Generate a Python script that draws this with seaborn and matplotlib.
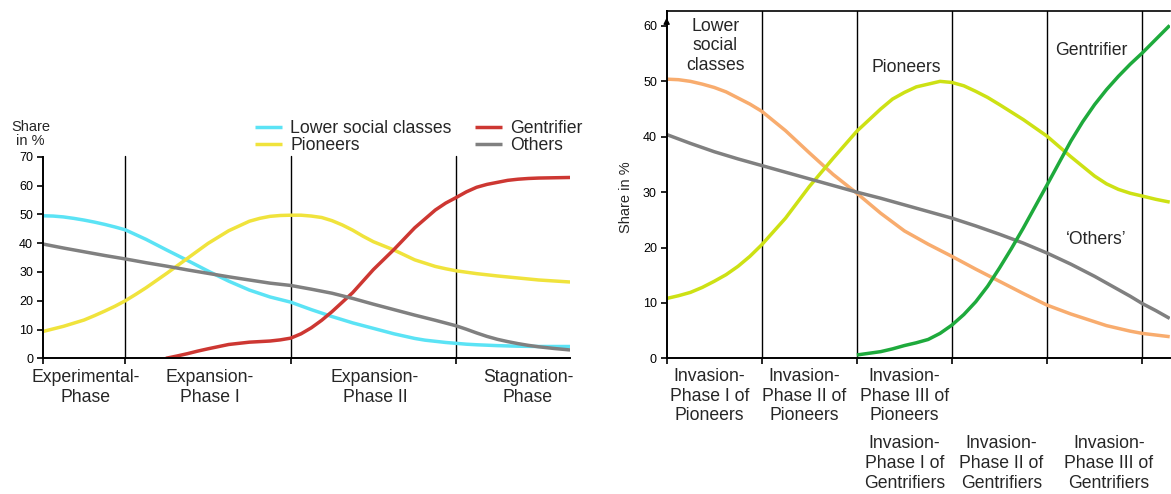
import matplotlib
matplotlib.use('Agg')
import matplotlib.pyplot as plt
import seaborn as sns
import pandas as pd
import numpy as np

# ---- left chart: phases of gentrification ----
t_lower_left = [0, 0.125, 0.25, 0.375, 0.5, 0.625, 0.75, 0.875, 1, 1.25, 1.5, 1.75, 2, 2.25,
                2.5, 2.75, 3, 3.25, 3.5, 3.75, 4, 4.25, 4.5, 4.625, 4.75, 4.875, 5, 5.125,
                5.25, 5.5, 5.75, 6, 6.38]
lower_left = [49.5, 49.4, 49.1, 48.6, 48.0, 47.3, 46.5, 45.6, 44.6, 41.3, 37.6, 34.0, 30.3, 26.8,
              23.7, 21.3, 19.5, 16.9, 14.5, 12.3, 10.4, 8.5, 6.9, 6.3, 5.9, 5.5, 5.2, 4.9,
              4.7, 4.4, 4.2, 4.1, 4.1]

t_pioneers_left = [0, 0.125, 0.25, 0.375, 0.5, 0.625, 0.75, 0.875, 1, 1.125, 1.25, 1.5, 1.75, 2,
                   2.25, 2.5, 2.625, 2.75, 2.875, 3, 3.125, 3.25, 3.375, 3.5, 3.625, 3.75, 3.875,
                   4, 4.25, 4.5, 4.75, 4.875, 5, 5.125, 5.25, 5.5, 5.75, 6, 6.38]
pioneers_left = [9.3, 10.2, 11.1, 12.2, 13.3, 14.8, 16.4, 18.1, 20.0, 22.2, 24.5, 29.5, 34.7, 39.9,
                 44.3, 47.6, 48.6, 49.3, 49.6, 49.7, 49.7, 49.4, 48.9, 47.8, 46.3, 44.5, 42.4,
                 40.5, 37.6, 34.2, 31.9, 31.1, 30.4, 29.9, 29.4, 28.6, 27.9, 27.2, 26.5]

t_others_left = [0, 0.25, 0.5, 0.75, 1, 1.25, 1.5, 1.75, 2, 2.25, 2.5, 2.75, 3, 3.25, 3.5, 3.75,
                 4, 4.25, 4.5, 4.75, 5, 5.125, 5.25, 5.375, 5.5, 5.625, 5.75, 5.875, 6, 6.19, 6.38]
others_left = [39.7, 38.3, 37.0, 35.7, 34.5, 33.2, 32.0, 30.7, 29.5, 28.3, 27.2, 26.1, 25.3, 24.0,
               22.6, 20.8, 18.8, 16.9, 15.0, 13.2, 11.3, 10.1, 8.8, 7.6, 6.6, 5.8, 5.1, 4.5,
               4.0, 3.4, 2.9]

t_gent_left = [1.49, 1.625, 1.75, 1.875, 2, 2.25, 2.5, 2.75, 2.875, 3, 3.125, 3.25, 3.375, 3.5,
               3.75, 4, 4.25, 4.5, 4.75, 4.875, 5, 5.125, 5.25, 5.375, 5.5, 5.625, 5.75, 5.875,
               6, 6.38]
gent_left = [0.0, 0.8, 1.6, 2.5, 3.3, 4.8, 5.6, 6.0, 6.4, 7.0, 8.5, 10.6, 13.2, 16.2,
             22.8, 30.8, 37.8, 45.3, 51.5, 53.9, 55.8, 57.8, 59.4, 60.4, 61.1, 61.8, 62.2, 62.45,
             62.6, 62.8]

left_phase_edges = [0, 1, 3, 5]
left_phase_labels = ['Experimental-\nPhase', 'Expansion-\nPhase I',
                     'Expansion-\nPhase II', 'Stagnation-\nPhase']
left_label_pos = [0.52, 2.02, 4.02, 5.87]

# ---- right chart: invasion phases ----
t_lower_right = [0, 0.125, 0.25, 0.375, 0.5, 0.625, 0.75, 0.875, 1, 1.25, 1.5, 1.75, 2, 2.25,
                 2.5, 2.75, 3, 3.25, 3.5, 3.75, 4, 4.25, 4.5, 4.625, 4.75, 4.875, 5, 5.145, 5.29]
lower_right = [50.4, 50.3, 50.0, 49.5, 48.9, 48.1, 47.0, 45.9, 44.6, 41.1, 37.1, 33.2, 29.8, 26.2,
               23.0, 20.6, 18.4, 16.1, 13.9, 11.7, 9.6, 8.0, 6.6, 5.9, 5.4, 4.9, 4.5, 4.2, 3.9]

t_pioneers_right = [0, 0.125, 0.25, 0.375, 0.5, 0.625, 0.75, 0.875, 1, 1.25, 1.5, 1.75, 2, 2.25,
                    2.375, 2.5, 2.625, 2.75, 2.875, 3, 3.125, 3.25, 3.375, 3.5, 3.75, 4, 4.25,
                    4.5, 4.625, 4.75, 4.875, 5, 5.145, 5.29]
pioneers_right = [10.8, 11.3, 11.9, 12.8, 13.9, 15.1, 16.6, 18.4, 20.5, 25.3, 31.0, 36.1, 41.0, 45.0,
                  46.8, 48.0, 49.0, 49.5, 50.0, 49.8, 49.2, 48.2, 47.1, 45.8, 43.1, 40.1, 36.4,
                  32.9, 31.5, 30.5, 29.8, 29.3, 28.7, 28.2]

t_others_right = [0, 0.25, 0.5, 0.75, 1, 1.25, 1.5, 1.75, 2, 2.25, 2.5, 2.75, 3, 3.25, 3.5, 3.75,
                  4, 4.25, 4.5, 4.625, 4.75, 4.875, 5, 5.145, 5.29]
others_right = [40.4, 38.8, 37.3, 36.0, 34.8, 33.6, 32.4, 31.2, 30.0, 28.9, 27.7, 26.5, 25.3, 23.9,
                22.4, 20.8, 19.0, 17.0, 14.8, 13.6, 12.4, 11.2, 9.9, 8.6, 7.2]

t_gent_right = [2, 2.25, 2.375, 2.5, 2.625, 2.75, 2.875, 3, 3.125, 3.25, 3.375, 3.5, 3.625, 3.75,
                4, 4.25, 4.375, 4.5, 4.625, 4.75, 4.875, 5, 5.145, 5.29]
gent_right = [0.6, 1.2, 1.7, 2.3, 2.8, 3.4, 4.5, 6.0, 7.9, 10.2, 13.0, 16.3, 19.8, 23.5,
              31.3, 39.2, 42.7, 45.8, 48.5, 50.9, 53.1, 55.1, 57.6, 60.1]

right_phase_edges = [0, 1, 2, 3, 4, 5]
pioneer_labels = ['Invasion-\nPhase I of\nPioneers', 'Invasion-\nPhase II of\nPioneers',
                  'Invasion-\nPhase III of\nPioneers']
pioneer_pos = [0.45, 1.45, 2.5]
gent_labels = ['Invasion-\nPhase I of\nGentrifiers', 'Invasion-\nPhase II of\nGentrifiers',
               'Invasion-\nPhase III of\nGentrifiers']
gent_pos = [2.5, 3.52, 4.65]

sns.set_style('white')
plt.rcParams['font.family'] = ['Liberation Sans', 'DejaVu Sans']

fig = plt.figure(figsize=(11.71, 4.94), dpi=100)
ax1 = fig.add_axes([0.0365, 0.2747, 0.4503, 0.408])
ax2 = fig.add_axes([0.5693, 0.2747, 0.4296, 0.703])

LW = 2.5
FS = 12.7
line_kw = dict(lw=LW, solid_joinstyle='round', solid_capstyle='butt')

# left chart
sns.lineplot(x=t_lower_left, y=lower_left, ax=ax1, color='#5BE3F5', label='Lower social classes', **line_kw)
sns.lineplot(x=t_pioneers_left, y=pioneers_left, ax=ax1, color='#F0E33C', label='Pioneers', **line_kw)
sns.lineplot(x=t_gent_left, y=gent_left, ax=ax1, color='#CD3732', label='Gentrifier', **line_kw)
sns.lineplot(x=t_others_left, y=others_left, ax=ax1, color='#808080', label='Others', **line_kw)

ax1.set_xlim(0, 6.38)
ax1.set_ylim(0, 70)
ax1.set_yticks(range(0, 71, 10))
ax1.set_xticks(left_phase_edges)
ax1.set_xticklabels([])
for x in left_phase_edges[1:]:
    ax1.plot([x, x], [0, 70.4], color='black', lw=1.0, clip_on=False, zorder=1)
for x, lab in zip(left_label_pos, left_phase_labels):
    ax1.text(x, -0.055, lab, transform=ax1.get_xaxis_transform(), ha='center', va='top',
             fontsize=FS)
ax1.text(-0.023, 1.114, 'Share\nin %', transform=ax1.transAxes, ha='center', va='center',
         fontsize=10.5, linespacing=1.0)
ax1.legend(ncol=2, loc='upper left', bbox_to_anchor=(0.4026, 1.18), frameon=False,
           fontsize=FS, handlelength=1.55, handletextpad=0.45, columnspacing=1.3,
           labelspacing=0.0, borderpad=0, borderaxespad=0)

# right chart
sns.lineplot(x=t_lower_right, y=lower_right, ax=ax2, color='#F8AC6E', legend=False, **line_kw)
sns.lineplot(x=t_pioneers_right, y=pioneers_right, ax=ax2, color='#CDE114', legend=False, **line_kw)
sns.lineplot(x=t_others_right, y=others_right, ax=ax2, color='#808080', legend=False, **line_kw)
sns.lineplot(x=t_gent_right, y=gent_right, ax=ax2, color='#1EAA3C', legend=False, **line_kw)

ax2.set_xlim(0, 5.29)
ax2.set_ylim(0, 62.7)
ax2.set_yticks(range(0, 61, 10))
ax2.set_xticks(right_phase_edges)
ax2.set_xticklabels([])
for x in right_phase_edges[1:]:
    ax2.axvline(x, color='black', lw=1.0, zorder=1)
for x, lab in zip(pioneer_pos, pioneer_labels):
    ax2.text(x, -0.028, lab, transform=ax2.get_xaxis_transform(), ha='center', va='top',
             fontsize=FS)
for x, lab in zip(gent_pos, gent_labels):
    ax2.text(x, -0.222, lab, transform=ax2.get_xaxis_transform(), ha='center', va='top',
             fontsize=FS)
ax2.text(0.51, 56.4, 'Lower\nsocial\nclasses', ha='center', va='center', fontsize=FS)
ax2.text(2.52, 52.5, 'Pioneers', ha='center', va='center', fontsize=FS)
ax2.text(4.47, 55.6, 'Gentrifier', ha='center', va='center', fontsize=FS)
ax2.text(4.52, 21.4, '\u2018Others\u2019', ha='center', va='center', fontsize=FS)
ax2.set_ylabel('Share in %', fontsize=10.5)
ax2.yaxis.set_label_coords(-0.067, 29 / 62.7)
ax2.annotate('', xy=(0, 62.0), xytext=(0, 59.0),
             arrowprops=dict(arrowstyle='-|>', color='black', lw=1.0, mutation_scale=9),
             annotation_clip=False)

for ax, top in ((ax1, False), (ax2, True)):
    ax.set_xlabel('')
    for side in ('left', 'bottom'):
        ax.spines[side].set_color('black')
        ax.spines[side].set_linewidth(1.4)
    ax.spines['right'].set_visible(False)
    ax.spines['top'].set_visible(top)
    ax.spines['top'].set_color('black')
    ax.spines['top'].set_linewidth(1.2)
    ax.tick_params(axis='both', direction='out', length=4, width=1.2, color='black',
                   labelcolor='black', bottom=True, left=True)
    ax.tick_params(axis='y', labelsize=9, pad=3)
    ax.grid(False)

fig.savefig('out.png', dpi=100)
